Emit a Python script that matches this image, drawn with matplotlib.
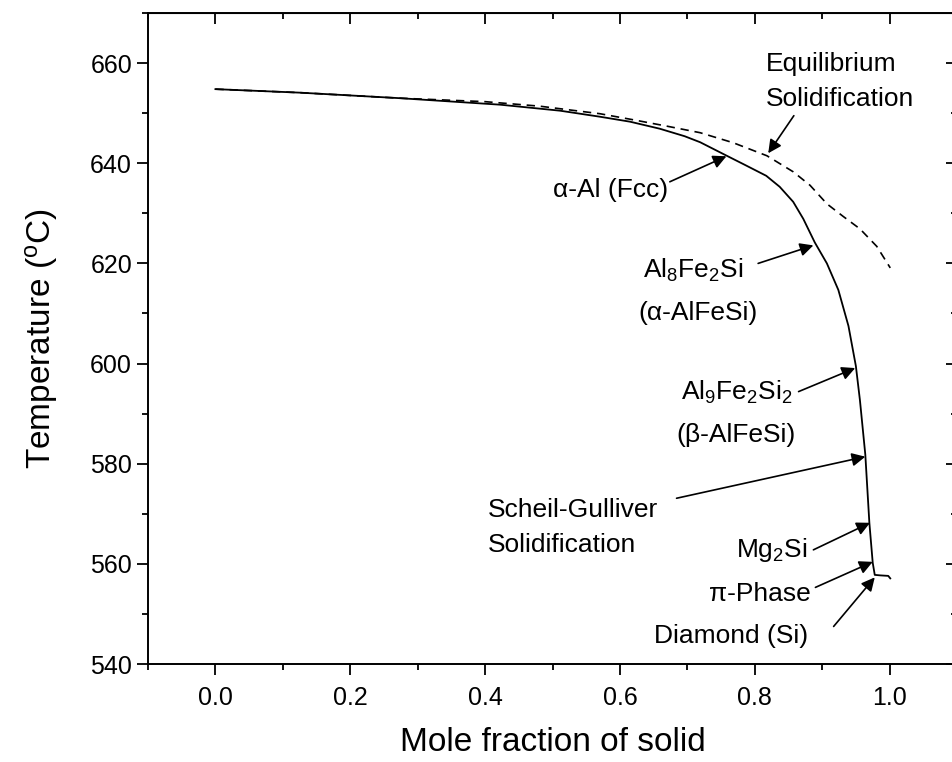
import numpy as np
import matplotlib
matplotlib.use("Agg")
import matplotlib.pyplot as plt
from matplotlib.ticker import MultipleLocator

plt.rcParams['font.family'] = ['Liberation Sans', 'DejaVu Sans']
plt.rcParams['mathtext.fontset'] = 'custom'
plt.rcParams['mathtext.rm'] = 'Liberation Sans'
plt.rcParams['mathtext.it'] = 'Liberation Sans:italic'

# Scheil-Gulliver solidification path
scheil_fs = [0.0, 0.125, 0.273, 0.422, 0.511, 0.570, 0.615, 0.659, 0.696, 0.719,
             0.757, 0.785, 0.817, 0.837, 0.857, 0.872, 0.889, 0.907, 0.924, 0.939,
             0.950, 0.956, 0.964, 0.970, 0.975, 0.978, 0.986, 0.998, 1.001]
scheil_T = [654.8, 654.1, 653.0, 651.7, 650.5, 649.3, 648.3, 646.9, 645.4, 644.2,
            641.6, 639.7, 637.5, 635.3, 632.3, 628.9, 624.2, 620.0, 614.7, 607.5,
            599.5, 592.7, 581.8, 568.2, 560.2, 557.8, 557.7, 557.6, 557.1]

# equilibrium solidification path
equil_fs = [0.0, 0.125, 0.273, 0.40, 0.481, 0.570, 0.619, 0.670, 0.719, 0.768,
            0.818, 0.857, 0.882, 0.907, 0.931, 0.956, 0.981, 1.001]
equil_T = [654.8, 654.1, 653.0, 652.3, 651.4, 649.9, 648.7, 647.4, 646.1, 644.1,
           641.5, 638.3, 635.6, 631.9, 629.4, 626.9, 623.4, 619.1]

# phase labels: (text, text x, text y, align, arrow tail, arrow tip)
labels = [
    ("Equilibrium", 0.817, 659.9, "left", None, None),
    ("Solidification", 0.817, 652.9, "left", (0.858, 649.5), (0.820, 642.0)),
    ("α-Al (Fcc)", 0.671, 634.7, "right", (0.674, 636.3), (0.758, 641.4)),
    (r"Al$\mathregular{_8}$Fe$\mathregular{_2}$Si", 0.708, 618.7, "center",
     (0.805, 620.0), (0.887, 623.6)),
    ("(α-AlFeSi)", 0.716, 610.1, "center", None, None),
    (r"Al$\mathregular{_9}$Fe$\mathregular{_2}$Si$\mathregular{_2}$", 0.774, 594.3,
     "center", (0.865, 594.4), (0.949, 599.1)),
    ("(β-AlFeSi)", 0.772, 585.8, "center", None, None),
    ("Scheil-Gulliver", 0.404, 570.8, "left", (0.684, 573.1), (0.964, 581.4)),
    ("Solidification", 0.404, 563.8, "left", None, None),
    (r"Mg$\mathregular{_2}$Si", 0.879, 562.8, "right", (0.887, 562.8), (0.971, 568.2)),
    ("π-Phase", 0.883, 554.0, "right", (0.890, 555.3), (0.975, 560.4)),
    ("Diamond (Si)", 0.879, 545.6, "right", (0.917, 547.5), (0.978, 557.3)),
]

fig = plt.figure(figsize=(9.53, 7.62), dpi=100)
ax = fig.add_axes([0.1553, 0.1286, 0.8489, 0.8543])

ax.plot(equil_fs, equil_T, color='k', lw=1.2, dashes=(5, 3.5))
ax.plot(scheil_fs, scheil_T, color='k', lw=1.3)

for txt, tx, ty, ha, tail, tip in labels:
    ax.text(tx, ty, txt, ha=ha, va='center', fontsize=19)
    if tail is not None:
        ax.annotate('', xy=tip, xytext=tail,
                    arrowprops=dict(arrowstyle='-|>', color='k', lw=1.2,
                                    mutation_scale=20, shrinkA=0, shrinkB=0))

ax.set_xlim(-0.1, 1.1)
ax.set_ylim(540, 670)
ax.xaxis.set_minor_locator(MultipleLocator(0.1))
ax.yaxis.set_major_locator(MultipleLocator(20))
ax.yaxis.set_minor_locator(MultipleLocator(10))
ax.set_xticks(np.arange(0, 1.01, 0.2))
ax.set_xticklabels(["0.0", "0.2", "0.4", "0.6", "0.8", "1.0"])

ax.tick_params(which='major', direction='out', length=8, width=1.3, labelsize=18)
ax.tick_params(which='minor', direction='out', length=4.5, width=1.3)
ax.tick_params(axis='x', pad=8)
for s in ax.spines.values():
    s.set_linewidth(1.4)

# inward ticks on the top and right frame
top = ax.secondary_xaxis('top')
top.xaxis.set_major_locator(MultipleLocator(0.2))
top.xaxis.set_minor_locator(MultipleLocator(0.1))
top.tick_params(which='major', direction='in', length=8, width=1.3, labeltop=False)
top.tick_params(which='minor', direction='in', length=4.5, width=1.3)
right = ax.secondary_yaxis('right')
right.yaxis.set_major_locator(MultipleLocator(20))
right.yaxis.set_minor_locator(MultipleLocator(10))
right.tick_params(which='major', direction='in', length=8, width=1.3, labelright=False)
right.tick_params(which='minor', direction='in', length=4.5, width=1.3)

ax.set_xlabel("Mole fraction of solid", fontsize=24, labelpad=12)
ax.set_ylabel(r"Temperature ($\mathregular{^o}$C)", fontsize=24, labelpad=22)

fig.savefig("out.png", dpi=100)
